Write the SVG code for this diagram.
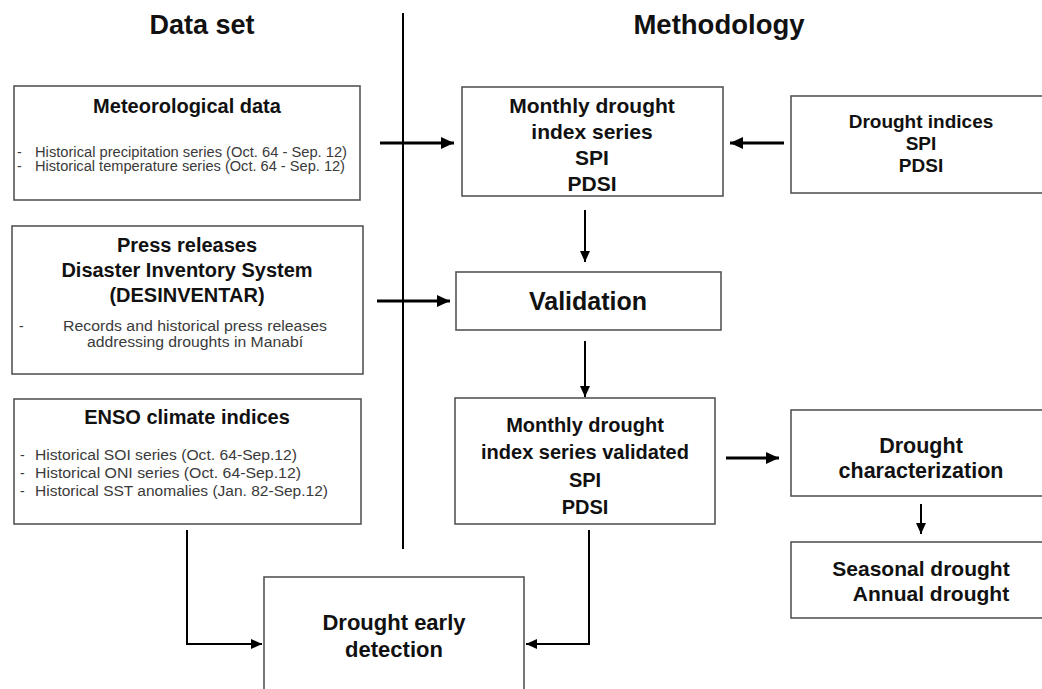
<svg xmlns="http://www.w3.org/2000/svg" width="1042" height="689" viewBox="0 0 1042 689">
<style>
.box{fill:#fff;stroke:#555;stroke-width:1.6}
.t{font-family:"Liberation Sans",Arial,sans-serif;font-weight:bold;fill:#111;text-anchor:middle}
.b{font-family:"Liberation Sans",Arial,sans-serif;fill:#3a3a3a;font-size:14px}
.c{fill:none;stroke:#000}
.h{stroke-width:3}
.v{stroke-width:2}
</style>
<defs>
<marker id="ah" markerUnits="userSpaceOnUse" markerWidth="14" markerHeight="14" refX="13" refY="7" orient="auto"><path d="M0,1 L13,7 L0,13 z" fill="#000"/></marker>
<marker id="as" markerUnits="userSpaceOnUse" markerWidth="12" markerHeight="12" refX="11" refY="6" orient="auto"><path d="M0,1 L11,6 L0,11 z" fill="#000"/></marker>
</defs>
<rect width="1042" height="689" fill="#fff"/>
<text class="t" x="202" y="34" font-size="27">Data set</text>
<text class="t" x="719" y="34" font-size="27.5">Methodology</text>
<line x1="403" y1="13" x2="403" y2="549" stroke="#000" stroke-width="2"/>

<g id="meteorological">
<rect class="box" x="14" y="86" width="346" height="114"/>
<text class="t" x="187" y="113" font-size="20">Meteorological data</text>
<text class="b" x="17" y="157" font-size="13">-</text>
<text class="b" x="35" y="157" font-size="13" textLength="312" lengthAdjust="spacingAndGlyphs">Historical precipitation series (Oct. 64 - Sep. 12)</text>
<text class="b" x="17" y="171" font-size="13">-</text>
<text class="b" x="35" y="171" font-size="13" textLength="310" lengthAdjust="spacingAndGlyphs">Historical temperature series (Oct. 64 - Sep. 12)</text>
</g>

<g id="press">
<rect class="box" x="12" y="226" width="351" height="148"/>
<text class="t" x="187" y="252" font-size="20">Press releases</text>
<text class="t" x="187" y="277" font-size="20">Disaster Inventory System</text>
<text class="t" x="187" y="302" font-size="20">(DESINVENTAR)</text>
<text class="b" x="19" y="331">-</text>
<text class="b" x="195" y="331" font-size="15" text-anchor="middle" textLength="264" lengthAdjust="spacingAndGlyphs">Records and historical press releases</text>
<text class="b" x="195" y="347" font-size="15" text-anchor="middle" textLength="216" lengthAdjust="spacingAndGlyphs">addressing droughts in Manabí</text>
</g>

<g id="enso">
<rect class="box" x="14" y="399" width="347" height="125"/>
<text class="t" x="187" y="424" font-size="20">ENSO climate indices</text>
<text class="b" x="20" y="460">-</text>
<text class="b" x="35" y="460" textLength="262" lengthAdjust="spacingAndGlyphs">Historical SOI series (Oct. 64-Sep.12)</text>
<text class="b" x="20" y="478">-</text>
<text class="b" x="35" y="478" textLength="266" lengthAdjust="spacingAndGlyphs">Historical ONI series (Oct. 64-Sep.12)</text>
<text class="b" x="20" y="496">-</text>
<text class="b" x="35" y="496" textLength="293" lengthAdjust="spacingAndGlyphs">Historical SST anomalies (Jan. 82-Sep.12)</text>
</g>

<g id="monthly">
<rect class="box" x="462" y="87" width="261" height="109"/>
<text class="t" x="592" y="113" font-size="21">Monthly drought</text>
<text class="t" x="592" y="139" font-size="21">index series</text>
<text class="t" x="592" y="165" font-size="21">SPI</text>
<text class="t" x="592" y="191" font-size="21">PDSI</text>
</g>

<g id="indices">
<rect class="box" x="791" y="96" width="270" height="97"/>
<text class="t" x="921" y="128" font-size="19">Drought indices</text>
<text class="t" x="921" y="150" font-size="19">SPI</text>
<text class="t" x="921" y="172" font-size="19">PDSI</text>
</g>

<g id="validation">
<rect class="box" x="456" y="272" width="265" height="58"/>
<text class="t" x="588" y="310" font-size="25">Validation</text>
</g>

<g id="validated">
<rect class="box" x="455" y="398" width="260" height="126"/>
<text class="t" x="585" y="432" font-size="20">Monthly drought</text>
<text class="t" x="585" y="459" font-size="20">index series validated</text>
<text class="t" x="585" y="487" font-size="20">SPI</text>
<text class="t" x="585" y="514" font-size="20">PDSI</text>
</g>

<g id="characterization">
<rect class="box" x="791" y="410" width="270" height="86"/>
<text class="t" x="921" y="453" font-size="21.5">Drought</text>
<text class="t" x="921" y="478" font-size="21.5">characterization</text>
</g>

<g id="seasonal">
<rect class="box" x="791" y="542" width="270" height="76"/>
<text class="t" x="921" y="576" font-size="21">Seasonal drought</text>
<text class="t" x="931" y="601" font-size="21">Annual drought</text>
</g>

<g id="early">
<rect class="box" x="264" y="577" width="260" height="130"/>
<text class="t" x="394" y="630" font-size="22">Drought early</text>
<text class="t" x="394" y="657" font-size="22">detection</text>
</g>

<g id="connectors">
<line class="c h" x1="380" y1="143" x2="454" y2="143" marker-end="url(#ah)"/>
<line class="c h" x1="784" y1="143" x2="730" y2="143" marker-end="url(#ah)"/>
<line class="c v" x1="585" y1="210" x2="585" y2="262" marker-end="url(#as)"/>
<line class="c h" x1="377" y1="301" x2="450" y2="301" marker-end="url(#ah)"/>
<line class="c v" x1="585" y1="341" x2="585" y2="397" marker-end="url(#as)"/>
<line class="c h" x1="726" y1="458" x2="779" y2="458" marker-end="url(#ah)"/>
<line class="c v" x1="921" y1="504" x2="921" y2="534" marker-end="url(#as)"/>
<polyline class="c v" points="187,530 187,644 262,644" marker-end="url(#as)"/>
<polyline class="c v" points="589,530 589,644 526,644" marker-end="url(#as)"/>
</g>
</svg>
